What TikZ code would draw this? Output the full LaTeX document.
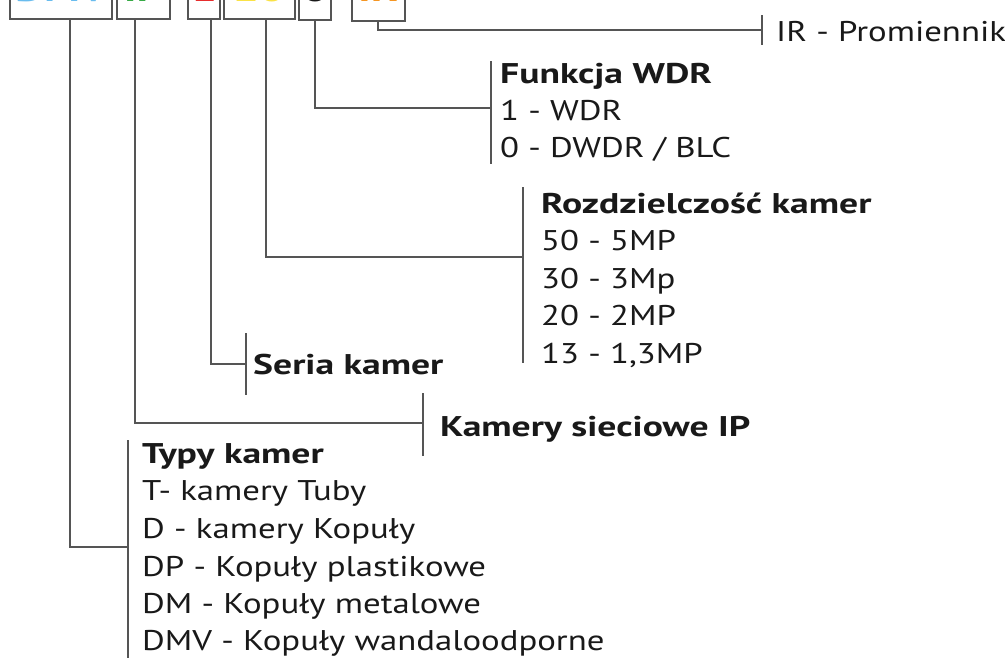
\documentclass[tikz,border=0pt]{standalone}
\usepackage{fontspec}
\setmainfont{PT Sans}[FakeStretch=1.22]
\newfontfamily\headfont{PT Sans}[FakeStretch=1.32]
\definecolor{linegray}{RGB}{85,85,85}
\definecolor{txtblack}{RGB}{25,25,25}
\definecolor{codeblue}{RGB}{105,188,238}
\definecolor{codegreen}{RGB}{55,170,70}
\definecolor{codered}{RGB}{230,45,45}
\definecolor{codeyellow}{RGB}{250,226,70}
\definecolor{codeorange}{RGB}{245,150,35}

\tikzset{
  ln/.style={draw=linegray, line width=1.4pt},
  txt/.style={anchor=base west, inner sep=0pt, text=txtblack, font=\fontsize{28.5}{34}\selectfont},
  head/.style={txt, font=\fontsize{28.5}{34}\headfont\bfseries},
  code/.style={anchor=base, inner sep=0pt, font=\fontsize{34}{34}\headfont\bfseries}
}

\begin{document}
\begin{tikzpicture}[x=1pt,y=-1pt]
    % page frame, the top line of the code is cut off
    \useasboundingbox (0,0) rectangle (1005,657);
    \clip (0,0) rectangle (1005,657);

    % coloured code letters (only their feet show)
    \node[code, text=codeblue] (cType) at (61,1) {DMV};
    \node[code, text=codegreen] (cNet) at (143,1) {IP};
    \node[code, text=codered] (cSer) at (204,1) {1};
    \node[code, text=codeyellow] (cRes) at (259,1) {20};
    \node[code, text=txtblack] (cWdr) at (315,1) {0};
    \node[code, text=codeorange] (cIr) at (378,1) {IR};

    % brackets under the code
    \draw[ln] (10,-2) -- (10,19) -- (112,19) -- (112,-2);
    \draw[ln] (117,-2) -- (117,19) -- (170,19) -- (170,-2);
    \draw[ln] (188,-2) -- (188,19) -- (220,19) -- (220,-2);
    \draw[ln] (224,-2) -- (224,19) -- (295,19) -- (295,-2);
    \draw[ln] (299,-2) -- (299,20) -- (331,20) -- (331,-2);
    \draw[ln] (352,-2) -- (352,21) -- (405,21) -- (405,-2);
    \coordinate (sType) at (70,19);
    \coordinate (sNet) at (135,19);
    \coordinate (sSer) at (211,19);
    \coordinate (sRes) at (266,19);
    \coordinate (sWdr) at (315,20);
    \coordinate (sIr) at (378,21);

    % IR
    \coordinate (irTop) at (762,15);
    \coordinate (irBot) at (762,45);
    \coordinate (irJ) at (762,30);
    \draw[ln] (irTop) -- (irBot);
    \draw[ln] (sIr) |- (irJ);
    \node[txt] (ir) at (776,41) {IR - Promiennik};

    % Funkcja WDR
    \coordinate (wdrTop) at (491,61);
    \coordinate (wdrBot) at (491,164);
    \coordinate (wdrJ) at (491,108);
    \draw[ln] (wdrTop) -- (wdrBot);
    \draw[ln] (sWdr) |- (wdrJ);
    \node[head] (wdr) at (500,83) {Funkcja WDR};
    \node[txt] (wdr1) at (500,120) {1 - WDR};
    \node[txt] (wdr0) at (500,157) {0 - DWDR / BLC};

    % Rozdzielczosc
    \coordinate (resTop) at (523,187);
    \coordinate (resBot) at (523,363);
    \coordinate (resJ) at (523,257);
    \draw[ln] (resTop) -- (resBot);
    \draw[ln] (sRes) |- (resJ);
    \node[head] (res) at (541,213) {Rozdzielczość kamer};
    \node[txt] (res50) at (541,250.5) {50 - 5MP};
    \node[txt] (res30) at (541,288) {30 - 3Mp};
    \node[txt] (res20) at (541,325.5) {20 - 2MP};
    \node[txt] (res13) at (541,363) {13 - 1,3MP};

    % Seria
    \coordinate (serTop) at (246,333);
    \coordinate (serBot) at (246,395);
    \coordinate (serJ) at (246,364);
    \draw[ln] (serTop) -- (serBot);
    \draw[ln] (sSer) |- (serJ);
    \node[head] (ser) at (253,374) {Seria kamer};

    % Kamery IP
    \coordinate (netTop) at (423,393);
    \coordinate (netBot) at (423,456);
    \coordinate (netJ) at (423,423);
    \draw[ln] (netTop) -- (netBot);
    \draw[ln] (sNet) |- (netJ);
    \node[head] (net) at (440,436) {Kamery sieciowe IP};

    % Typy kamer
    \coordinate (typTop) at (128,440);
    \coordinate (typBot) at (128,660);
    \coordinate (typJ) at (128,547);
    \draw[ln] (typTop) -- (typBot);
    \draw[ln] (sType) |- (typJ);
    \node[head] (typ) at (142,463) {Typy kamer};
    \node[txt] (typT) at (142,500) {T- kamery Tuby};
    \node[txt] (typD) at (142,538) {D - kamery Kopuły};
    \node[txt] (typDP) at (142,576) {DP - Kopuły plastikowe};
    \node[txt] (typDM) at (142,613) {DM - Kopuły metalowe};
    \node[txt] (typDMV) at (142,650) {DMV - Kopuły wandaloodporne};
\end{tikzpicture}
\end{document}
